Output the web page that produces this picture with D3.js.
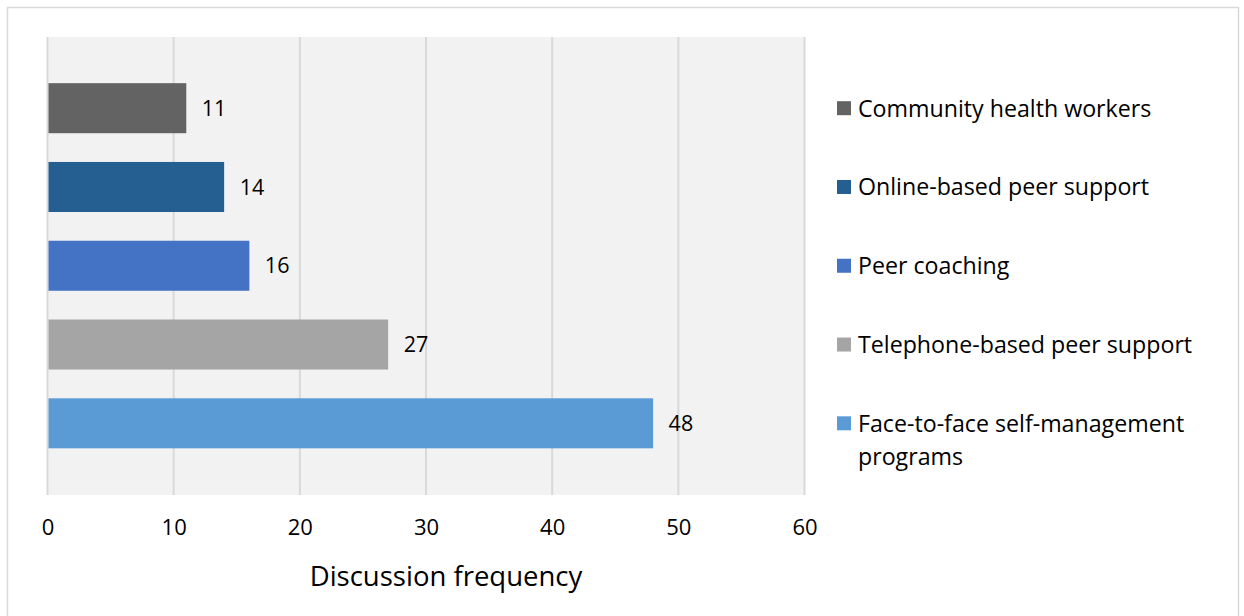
<!DOCTYPE html>
<html>
<head>
<meta charset="utf-8">
<script src="https://cdn.jsdelivr.net/npm/d3@7"></script>
<style>
  html, body { margin: 0; padding: 0; background: #fff; }
  svg { display: block; font-family: "Open Sans", Lato, sans-serif; }
</style>
</head>
<body>
<svg id="chart" width="1244" height="616"></svg>
<script>
// Discussion frequency per peer-support approach (top to bottom)
const categories = [
  "Community health workers",
  "Online-based peer support",
  "Peer coaching",
  "Telephone-based peer support",
  "Face-to-face self-management programs"
];
const values = [11, 14, 16, 27, 48];
const colors = ["#636363", "#255e91", "#4472c4", "#a5a5a5", "#5b9bd5"];
const xTicks = [0, 10, 20, 30, 40, 50, 60];
const xTitle = "Discussion frequency";

const FONT = "'Open Sans', Lato, sans-serif";
const svg = d3.select("#chart");

// outer chart frame
svg.append("rect")
  .attr("x", 7.5).attr("y", 7.5)
  .attr("width", 1231).attr("height", 620)
  .attr("fill", "#fff").attr("stroke", "#d9d9d9").attr("stroke-width", 1.5);

const plot = { left: 47.5, right: 804.5, top: 37, bottom: 495 };

const x = d3.scaleLinear().domain([0, 60]).range([plot.left, plot.right]);
const y = d3.scaleBand().domain(categories).range([69, 462.5]).paddingInner(0.365).paddingOuter(0.18);

// plot background
svg.append("rect")
  .attr("x", plot.left).attr("y", plot.top)
  .attr("width", plot.right - plot.left).attr("height", plot.bottom - plot.top)
  .attr("fill", "#f2f2f2");

// vertical gridlines
svg.append("g").selectAll("line").data(xTicks).join("line")
  .attr("x1", d => x(d)).attr("x2", d => x(d))
  .attr("y1", plot.top).attr("y2", plot.bottom)
  .attr("stroke", "#d9d9d9").attr("stroke-width", 2);

// bars
svg.append("g").selectAll("rect").data(categories).join("rect")
  .attr("x", x(0) + 1)
  .attr("y", d => y(d))
  .attr("width", (d, i) => x(values[i]) - x(0) - 1)
  .attr("height", y.bandwidth())
  .attr("fill", (d, i) => colors[i]);

// value labels
svg.append("g").selectAll("text").data(categories).join("text")
  .attr("x", (d, i) => x(values[i]) + 15.5)
  .attr("y", d => y(d) + y.bandwidth() / 2)
  .attr("dy", "0.36em")
  .attr("font-family", FONT)
  .attr("font-size", 21.5)
  .attr("fill", "#000")
  .text((d, i) => values[i]);

// x axis tick labels
const xAxis = d3.axisBottom(x).tickValues(xTicks).tickSize(0).tickPadding(0);
const gx = svg.append("g").attr("transform", `translate(0, ${plot.bottom + 32})`).call(xAxis);
gx.select(".domain").remove();
gx.selectAll("text")
  .attr("font-family", FONT)
  .attr("font-size", 22).attr("fill", "#000").attr("dy", "0.36em");

// axis title
svg.append("text")
  .attr("x", 446).attr("y", 576)
  .attr("dy", "0.36em").attr("text-anchor", "middle")
  .attr("font-family", FONT)
  .attr("font-size", 27.5).attr("fill", "#000")
  .text(xTitle);

// legend
const legend = svg.append("g");
const rows = legend.selectAll("g").data(categories).join("g")
  .attr("transform", d => `translate(837, ${y(d) + y.bandwidth() / 2})`);
rows.append("rect")
  .attr("x", 0).attr("y", -7).attr("width", 14).attr("height", 14)
  .attr("fill", (d, i) => colors[i]);
rows.each(function(d) {
  const words = d === "Face-to-face self-management programs"
    ? ["Face-to-face self-management", "programs"] : [d];
  const t = d3.select(this).append("text")
    .attr("x", 21).attr("font-family", FONT).attr("font-size", 23.2).attr("fill", "#000");
  words.forEach((w, k) => {
    t.append("tspan").attr("x", 21).attr("y", k * 33).attr("dy", "0.36em").text(w);
  });
});
</script>
</body>
</html>
